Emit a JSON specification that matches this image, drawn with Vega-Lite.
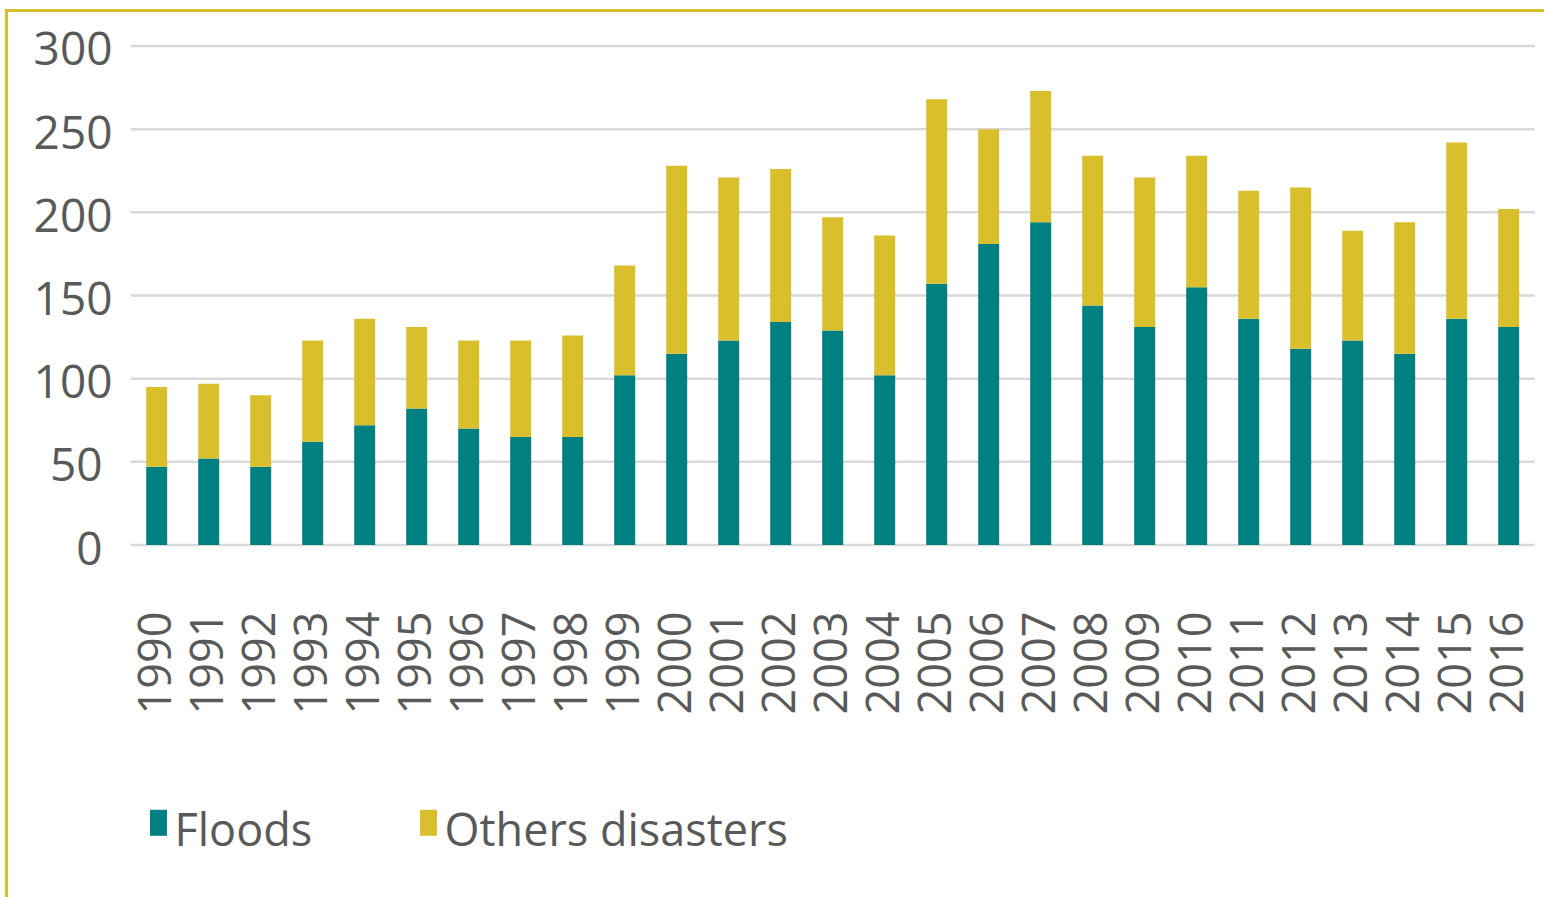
{
  "$schema": "https://vega.github.io/schema/vega-lite/v6.json",
  "width": 1538,
  "height": 887,
  "autosize": {"type": "none"},
  "padding": {"left": 6, "top": 10, "right": 0, "bottom": 0},
  "background": "white",
  "config": {"view": {"stroke": null}, "font": "Open Sans"},
  "layer": [
    {
      "data": {"values": [{"tick": 0}, {"tick": 50}, {"tick": 100}, {"tick": 150}, {"tick": 200}, {"tick": 250}, {"tick": 300}]},
      "mark": {"type": "rule", "color": "#d9d9d9", "strokeWidth": 2.5},
      "encoding": {
        "y": {
          "field": "tick", "type": "quantitative",
          "scale": {"domain": [-211.62, 321.64], "nice": false, "zero": false},
          "axis": {
            "orient": "left", "title": null, "values": [0, 50, 100, 150, 200, 250, 300],
            "domain": true, "domainColor": "#d9bf2b", "domainWidth": 3, "domainCap": "square",
            "ticks": false, "tickSize": 0, "grid": false,
            "labelPadding": {"condition": {"test": "datum.value < 100", "value": -96}, "value": -106},
            "labelOffset": 5, "labelAlign": "right", "labelBaseline": "middle",
            "labelFont": "Open Sans", "labelFontSize": 46, "labelColor": "#595959",
            "labelOverlap": false, "labelBound": false, "labelFlush": false
          }
        },
        "x": {
          "datum": 1989.5, "type": "quantitative",
          "scale": {"domain": [1987.102, 2016.679], "nice": false, "zero": false, "padding": 0},
          "axis": {
            "orient": "top", "title": null, "format": "d",
            "values": [1990, 1991, 1992, 1993, 1994, 1995, 1996, 1997, 1998, 1999, 2000, 2001, 2002, 2003, 2004, 2005, 2006, 2007, 2008, 2009, 2010, 2011, 2012, 2013, 2014, 2015, 2016],
            "domain": true, "domainColor": "#d9bf2b", "domainWidth": 3, "domainCap": "square",
            "ticks": false, "tickSize": 0, "grid": false,
            "labelAngle": -90, "labelAlign": "right", "labelBaseline": "middle", "labelPadding": -601,
            "labelFont": "Open Sans", "labelFontSize": 45, "labelColor": "#595959",
            "labelOverlap": false, "labelBound": false, "labelFlush": false
          }
        },
        "x2": {"datum": 2016.5}
      }
    },
    {
      "data": {
        "values": [
          {"year": 1990, "series": "Floods", "count": 47}, {"year": 1990, "series": "Others disasters", "count": 48},
          {"year": 1991, "series": "Floods", "count": 52}, {"year": 1991, "series": "Others disasters", "count": 45},
          {"year": 1992, "series": "Floods", "count": 47}, {"year": 1992, "series": "Others disasters", "count": 43},
          {"year": 1993, "series": "Floods", "count": 62}, {"year": 1993, "series": "Others disasters", "count": 61},
          {"year": 1994, "series": "Floods", "count": 72}, {"year": 1994, "series": "Others disasters", "count": 64},
          {"year": 1995, "series": "Floods", "count": 82}, {"year": 1995, "series": "Others disasters", "count": 49},
          {"year": 1996, "series": "Floods", "count": 70}, {"year": 1996, "series": "Others disasters", "count": 53},
          {"year": 1997, "series": "Floods", "count": 65}, {"year": 1997, "series": "Others disasters", "count": 58},
          {"year": 1998, "series": "Floods", "count": 65}, {"year": 1998, "series": "Others disasters", "count": 61},
          {"year": 1999, "series": "Floods", "count": 102}, {"year": 1999, "series": "Others disasters", "count": 66},
          {"year": 2000, "series": "Floods", "count": 115}, {"year": 2000, "series": "Others disasters", "count": 113},
          {"year": 2001, "series": "Floods", "count": 123}, {"year": 2001, "series": "Others disasters", "count": 98},
          {"year": 2002, "series": "Floods", "count": 134}, {"year": 2002, "series": "Others disasters", "count": 92},
          {"year": 2003, "series": "Floods", "count": 129}, {"year": 2003, "series": "Others disasters", "count": 68},
          {"year": 2004, "series": "Floods", "count": 102}, {"year": 2004, "series": "Others disasters", "count": 84},
          {"year": 2005, "series": "Floods", "count": 157}, {"year": 2005, "series": "Others disasters", "count": 111},
          {"year": 2006, "series": "Floods", "count": 181}, {"year": 2006, "series": "Others disasters", "count": 69},
          {"year": 2007, "series": "Floods", "count": 194}, {"year": 2007, "series": "Others disasters", "count": 79},
          {"year": 2008, "series": "Floods", "count": 144}, {"year": 2008, "series": "Others disasters", "count": 90},
          {"year": 2009, "series": "Floods", "count": 131}, {"year": 2009, "series": "Others disasters", "count": 90},
          {"year": 2010, "series": "Floods", "count": 155}, {"year": 2010, "series": "Others disasters", "count": 79},
          {"year": 2011, "series": "Floods", "count": 136}, {"year": 2011, "series": "Others disasters", "count": 77},
          {"year": 2012, "series": "Floods", "count": 118}, {"year": 2012, "series": "Others disasters", "count": 97},
          {"year": 2013, "series": "Floods", "count": 123}, {"year": 2013, "series": "Others disasters", "count": 66},
          {"year": 2014, "series": "Floods", "count": 115}, {"year": 2014, "series": "Others disasters", "count": 79},
          {"year": 2015, "series": "Floods", "count": 136}, {"year": 2015, "series": "Others disasters", "count": 106},
          {"year": 2016, "series": "Floods", "count": 131}, {"year": 2016, "series": "Others disasters", "count": 71}
        ]
      },
      "mark": {"type": "bar", "width": 21},
      "encoding": {
        "x": {
          "field": "year", "type": "quantitative",
          "scale": {"domain": [1987.102, 2016.679], "nice": false, "zero": false, "padding": 0},
          "axis": {
            "orient": "top", "title": null, "format": "d",
            "values": [1990, 1991, 1992, 1993, 1994, 1995, 1996, 1997, 1998, 1999, 2000, 2001, 2002, 2003, 2004, 2005, 2006, 2007, 2008, 2009, 2010, 2011, 2012, 2013, 2014, 2015, 2016],
            "domain": true, "domainColor": "#d9bf2b", "domainWidth": 3, "domainCap": "square",
            "ticks": false, "tickSize": 0, "grid": false,
            "labelAngle": -90, "labelAlign": "right", "labelBaseline": "middle", "labelPadding": -601,
            "labelFont": "Open Sans", "labelFontSize": 45, "labelColor": "#595959",
            "labelOverlap": false, "labelBound": false, "labelFlush": false
          }
        },
        "y": {
          "field": "count", "type": "quantitative", "stack": "zero",
          "scale": {"domain": [-211.62, 321.64], "nice": false, "zero": false},
          "axis": {
            "orient": "left", "title": null, "values": [0, 50, 100, 150, 200, 250, 300],
            "domain": true, "domainColor": "#d9bf2b", "domainWidth": 3, "domainCap": "square",
            "ticks": false, "tickSize": 0, "grid": false,
            "labelPadding": {"condition": {"test": "datum.value < 100", "value": -96}, "value": -106},
            "labelOffset": 5, "labelAlign": "right", "labelBaseline": "middle",
            "labelFont": "Open Sans", "labelFontSize": 46, "labelColor": "#595959",
            "labelOverlap": false, "labelBound": false, "labelFlush": false
          }
        },
        "color": {
          "field": "series", "type": "nominal",
          "scale": {"domain": ["Floods", "Others disasters"], "range": ["#008080", "#d9bf2b"]},
          "legend": {
            "title": null, "orient": "none", "legendX": 130, "legendY": 799,
            "direction": "horizontal", "padding": 0,
            "symbolType": "M-0.654,-1.69H0.654V0.31H-0.654Z", "symbolSize": 676,
            "symbolStrokeWidth": 0, "symbolOpacity": 1,
            "labelFont": "Open Sans", "labelFontSize": 45, "labelColor": "#595959",
            "labelOffset": -6.5, "columnPadding": 93, "labelLimit": 1000
          }
        },
        "order": {"field": "series", "sort": "ascending"}
      }
    }
  ]
}
